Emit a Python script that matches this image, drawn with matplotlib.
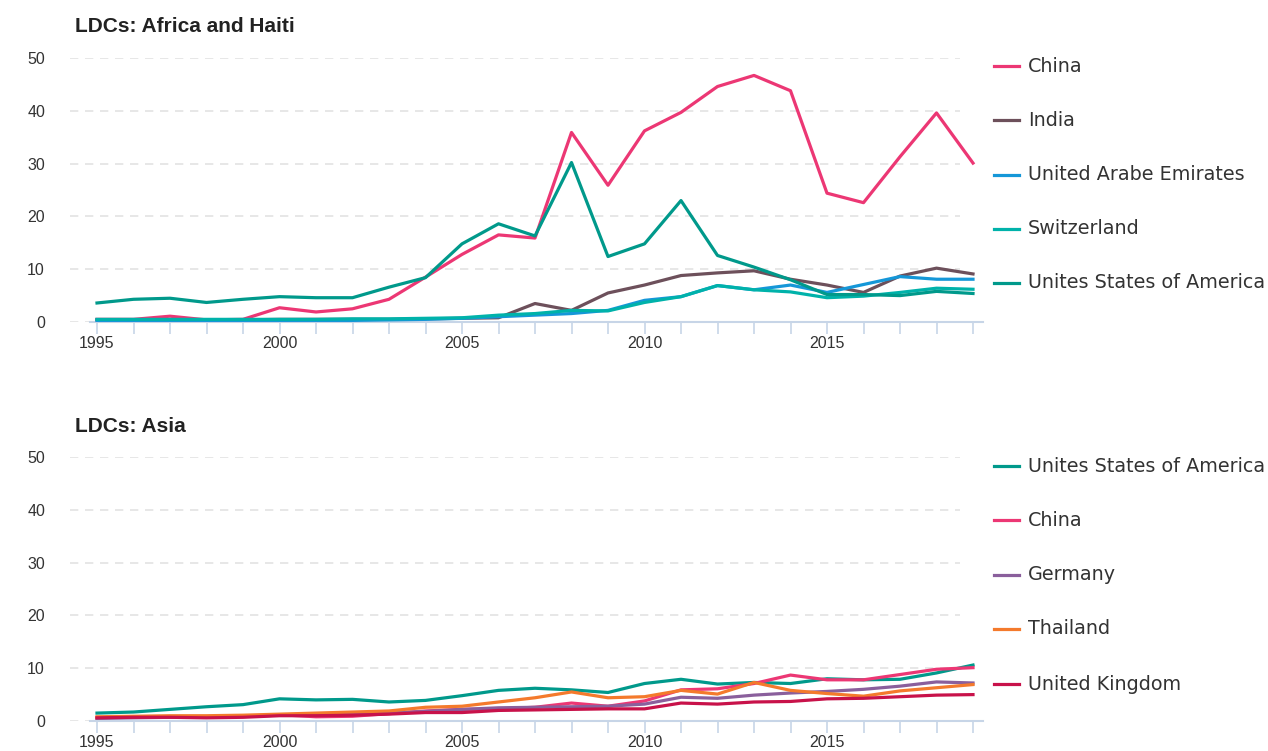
import numpy as np
import matplotlib
matplotlib.use("Agg")
import matplotlib.pyplot as plt
from matplotlib.lines import Line2D

years = list(range(1995, 2020))

# LDCs: Africa and Haiti
africa_names = ["China", "India", "United Arabe Emirates", "Switzerland", "Unites States of America"]
africa_china = [0.5, 0.5, 1.1, 0.4, 0.5, 2.7, 1.9, 2.5, 4.3, 8.5, 12.8, 16.5, 15.9, 35.9, 25.9,
                36.2, 39.7, 44.6, 46.7, 43.8, 24.4, 22.6, 31.3, 39.6, 30.1]
africa_india = [0.4, 0.4, 0.4, 0.4, 0.4, 0.5, 0.5, 0.5, 0.5, 0.6, 0.7, 0.8, 3.5, 2.2, 5.5,
                7.0, 8.8, 9.3, 9.7, 8.1, 7.0, 5.6, 8.7, 10.2, 9.1]
africa_uae = [0.3, 0.3, 0.3, 0.3, 0.3, 0.3, 0.3, 0.3, 0.4, 0.5, 0.7, 1.0, 1.3, 1.6, 2.2,
              4.1, 4.8, 6.9, 6.1, 7.0, 5.6, 7.1, 8.6, 8.1, 8.1]
africa_switz = [0.5, 0.5, 0.5, 0.5, 0.5, 0.5, 0.5, 0.6, 0.6, 0.7, 0.8, 1.3, 1.6, 2.2, 2.1,
                3.7, 4.8, 6.9, 6.1, 5.7, 4.6, 4.9, 5.6, 6.4, 6.2]
africa_usa = [3.6, 4.3, 4.5, 3.7, 4.3, 4.8, 4.6, 4.6, 6.6, 8.4, 14.8, 18.6, 16.3, 30.2, 12.4,
              14.8, 23.0, 12.6, 10.4, 8.0, 5.2, 5.2, 5.0, 5.8, 5.4]

# LDCs: Asia
asia_names = ["Unites States of America", "China", "Germany", "Thailand", "United Kingdom"]
asia_usa = [1.5, 1.7, 2.2, 2.7, 3.1, 4.2, 4.0, 4.1, 3.6, 3.9, 4.8, 5.8, 6.2, 5.9, 5.4,
            7.1, 7.9, 7.0, 7.3, 7.1, 8.0, 7.8, 7.9, 9.1, 10.6]
asia_china = [0.6, 0.8, 0.8, 0.7, 0.9, 1.2, 0.8, 0.9, 1.4, 1.9, 2.2, 2.3, 2.6, 3.4, 2.8,
              3.8, 5.9, 6.1, 7.1, 8.7, 7.8, 7.8, 8.8, 9.8, 10.1]
asia_germany = [0.5, 0.6, 0.7, 0.8, 0.9, 1.1, 1.2, 1.3, 1.5, 1.8, 2.2, 2.5, 2.6, 2.7, 2.8,
                3.2, 4.5, 4.3, 4.9, 5.3, 5.6, 6.0, 6.6, 7.4, 7.2]
asia_thailand = [0.8, 0.9, 1.0, 1.0, 1.1, 1.3, 1.5, 1.7, 1.9, 2.6, 2.8, 3.6, 4.4, 5.5, 4.4,
                 4.6, 5.8, 5.1, 7.3, 5.8, 5.2, 4.7, 5.7, 6.3, 6.9]
asia_uk = [0.6, 0.7, 0.7, 0.6, 0.7, 1.0, 1.0, 1.1, 1.3, 1.6, 1.6, 2.0, 2.1, 2.2, 2.3,
           2.3, 3.4, 3.2, 3.6, 3.7, 4.2, 4.3, 4.6, 4.9, 5.0]

africa_colors = ["#ec3774", "#6d505b", "#1597d8", "#00b2aa", "#00998b"]
asia_colors = ["#00998b", "#ec3774", "#8a5f9c", "#f47a2c", "#c8124a"]

W, H = 1268, 751
fig = plt.figure(figsize=(W / 100, H / 100), dpi=100)

TXT = "#333333"
AXC = "#c7d5e7"
ppy = 36.5  # pixels per year


def add_panel(top, bottom, title, names, series, colors, legend_y):
    left, right = 70, 983
    ax = fig.add_axes([left / W, 1 - bottom / H, (right - left) / W, (bottom - top) / H])
    x0 = 1995 - (97 - left) / ppy
    x1 = 2019 + (right - 973) / ppy
    ax.set_xlim(x0, x1)
    ax.set_ylim(0, 50)
    for s in ["top", "right", "left"]:
        ax.spines[s].set_visible(False)
    ax.spines["bottom"].set_color(AXC)
    ax.spines["bottom"].set_linewidth(1.5)
    ax.spines["bottom"].set_bounds(1995 - 7 / ppy, x1)
    ax.set_xticks(years)
    ax.set_xticklabels([str(y) if y % 5 == 0 else "" for y in years])
    ax.tick_params(axis="x", length=8.5, width=1.2, color=AXC, pad=1.5,
                   labelsize=11.5, labelcolor=TXT)
    ax.set_yticks([0, 10, 20, 30, 40, 50])
    ax.tick_params(axis="y", length=0, pad=18, labelsize=11.5, labelcolor=TXT)
    for lab in ax.get_xticklabels() + ax.get_yticklabels():
        lab.set_fontfamily("Liberation Sans")
    gx = (960 - left) / (right - left)
    for v in [0, 10, 20, 30, 40, 50]:
        ax.axhline(v, xmin=0, xmax=gx, color="#e3e3e3", lw=1.2,
                   dashes=(5, 4), zorder=0)
    for vals, c in zip(series, colors):
        ax.plot(years, vals, color=c, lw=2.3, clip_on=False, zorder=3)

    fig.text(75 / W, 1 - (top - 31) / H, title, fontsize=15, fontweight="bold",
             family="Liberation Sans", color="#222222", va="center", ha="left")

    for name, c, ly in zip(names, colors, legend_y):
        fig.add_artist(Line2D([994 / W, 1019 / W], [1 - ly / H, 1 - ly / H],
                              color=c, lw=2.3))
        fig.text(1028 / W, 1 - ly / H, name, fontsize=13.8, family="DejaVu Sans",
                 color=TXT, va="center", ha="left")
    return ax


add_panel(58, 322, "LDCs: Africa and Haiti", africa_names,
          [africa_china, africa_india, africa_uae, africa_switz, africa_usa],
          africa_colors, [66, 120, 175, 229, 283])
add_panel(457, 721, "LDCs: Asia", asia_names,
          [asia_usa, asia_china, asia_germany, asia_thailand, asia_uk],
          asia_colors, [466, 520, 575, 629, 684])

fig.savefig("out.png", dpi=100, facecolor="white")
